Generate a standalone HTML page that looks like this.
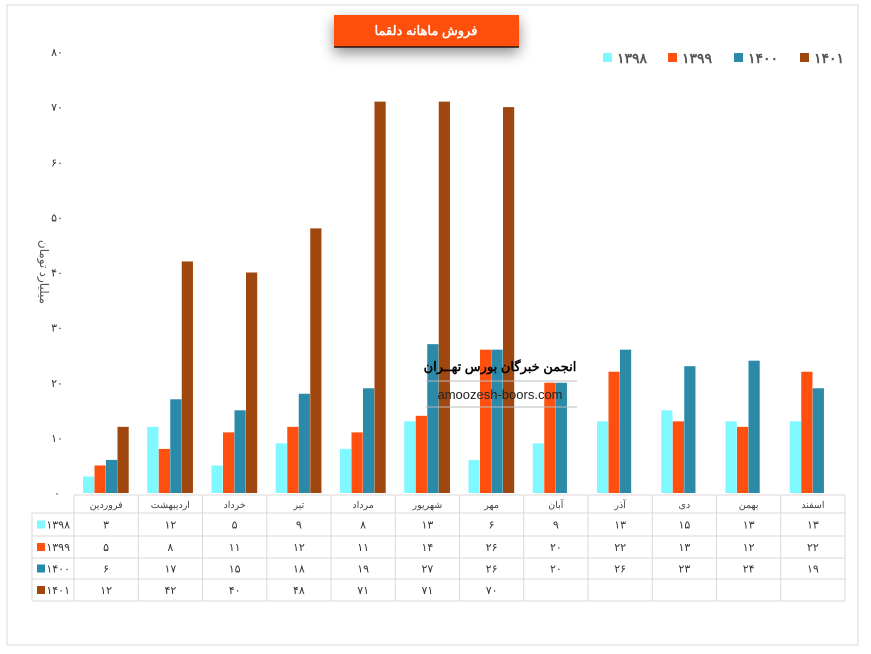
<!DOCTYPE html>
<html><head><meta charset="utf-8">
<style>
body{margin:0;background:#fff;}
svg{display:block;font-family:"Liberation Sans","Noto Sans CJK SC",sans-serif;}
</style></head>
<body>
<svg id="chart" width="871" height="654" viewBox="0 0 871 654">
<defs>
<filter id="sh" x="-30%" y="-50%" width="160%" height="250%"><feDropShadow dx="0" dy="6" stdDeviation="7" flood-color="#000" flood-opacity="0.45"/></filter>
</defs>
<rect x="7" y="5" width="851" height="640" fill="#fff" stroke="#d9d9d9" stroke-width="1"/>
<g id="plot"></g>
<g id="table"></g>
<rect x="334" y="15" width="185" height="32" fill="#ff5010" filter="url(#sh)"/>
<line x1="334" y1="47" x2="519" y2="47" stroke="#000" stroke-width="1.2"/>
<text x="426" y="35" text-anchor="middle" font-size="13" font-weight="bold" fill="#fff">فروش ماهانه دلقما</text>
<text transform="translate(40,272) rotate(90)" text-anchor="middle" font-size="12" fill="#555">میلیارد تومان</text>
<g>
<text x="500" y="371" text-anchor="middle" font-size="13" font-weight="bold" fill="#000">انجمن خبرگان بورس تهــران</text>
<line x1="426" y1="381" x2="577" y2="381" stroke="#bbb" stroke-width="1"/>
<text x="500" y="399" text-anchor="middle" font-size="13" fill="#222">amoozesh-boors.com</text>
<line x1="426" y1="407" x2="577" y2="407" stroke="#bbb" stroke-width="1"/>
</g>
<g id="legend"></g>
</svg>
<script>
const categories=["فروردین","اردیبهشت","خرداد","تیر","مرداد","شهریور","مهر","آبان","آذر","دی","بهمن","اسفند"];
const seriesNames=["1398","1399","1400","1401"];
const s1398=[3,12,5,9,8,13,6,9,13,15,13,13];
const s1399=[5,8,11,12,11,14,26,20,22,13,12,22];
const s1400=[6,17,15,18,19,27,26,20,26,23,24,19];
const s1401=[12,42,40,48,71,71,70,null,null,null,null,null];
const yTicks=[0,10,20,30,40,50,60,70,80];
const colors=["#7ff8ff","#ff5010","#2a8aa8","#a0460f"];
const series=[s1398,s1399,s1400,s1401];
const NS="http://www.w3.org/2000/svg";
const fa=n=>String(n).replace(/\d/g,d=>"۰۱۲۳۴۵۶۷۸۹"[d]);
const x0=74,colW=(845-74)/12,y0=493,y80=52,ymax=80;
const yS=v=>y0-(v/ymax)*(y0-y80);
const xS=i=>x0+i*colW;
function mk(tag,attrs,parent){const e=document.createElementNS(NS,tag);for(const k in attrs)e.setAttribute(k,attrs[k]);parent.appendChild(e);return e;}
const plot=document.getElementById('plot');
yTicks.forEach(t=>{const e=mk('text',{x:57,y:yS(t)+4,'text-anchor':'middle','font-size':11,fill:'#333'},plot);


e.textContent=fa(t);});
const bw=11.5,gOff=9;
series.forEach((s,si)=>{s.forEach((v,i)=>{if(v==null)return;
const r=mk('rect',{x:xS(i)+gOff+si*bw,y:yS(v),width:bw-0.3,height:y0-yS(v),fill:colors[si]},plot);

});});
const tb=document.getElementById('table');
const rows=[495,513,536,558,579,601];
const g='#d9d9d9';
mk('line',{x1:x0,y1:rows[0],x2:845,y2:rows[0],stroke:g},tb);
for(let r=1;r<rows.length;r++)mk('line',{x1:32,y1:rows[r],x2:845,y2:rows[r],stroke:g},tb);
mk('line',{x1:32,y1:rows[1],x2:32,y2:rows[5],stroke:g},tb);
for(let i=0;i<=12;i++)mk('line',{x1:xS(i),y1:rows[0],x2:xS(i),y2:rows[5],stroke:g},tb);
categories.forEach((c,i)=>{const e=mk('text',{x:xS(i)+colW/2,y:508,'text-anchor':'middle','font-size':9.5,fill:'#444'},tb);


e.textContent=c;});
series.forEach((s,si)=>{const cy=(rows[si+1]+rows[si+2])/2;
const sq=mk('rect',{x:37,y:cy-4,width:8,height:8,fill:colors[si]},tb);


const lt=mk('text',{x:70,y:cy+4,'text-anchor':'end','font-size':11,fill:'#333'},tb);


lt.textContent=fa(seriesNames[si]);
s.forEach((v,i)=>{if(v==null)return;const e=mk('text',{x:xS(i)+colW/2,y:cy+4,'text-anchor':'middle','font-size':11,fill:'#333'},tb);


e.textContent=fa(v);});});
const lg=document.getElementById('legend');
const lx=[603,668,734,800];
seriesNames.forEach((n,si)=>{
const r=mk('rect',{x:lx[si],y:53,width:9,height:9,fill:colors[si]},lg);


const t=mk('text',{x:lx[si]+14,y:63,'font-size':14,'font-weight':'bold',fill:'#555'},lg);


t.textContent=fa(n);});
</script>
</body></html>
